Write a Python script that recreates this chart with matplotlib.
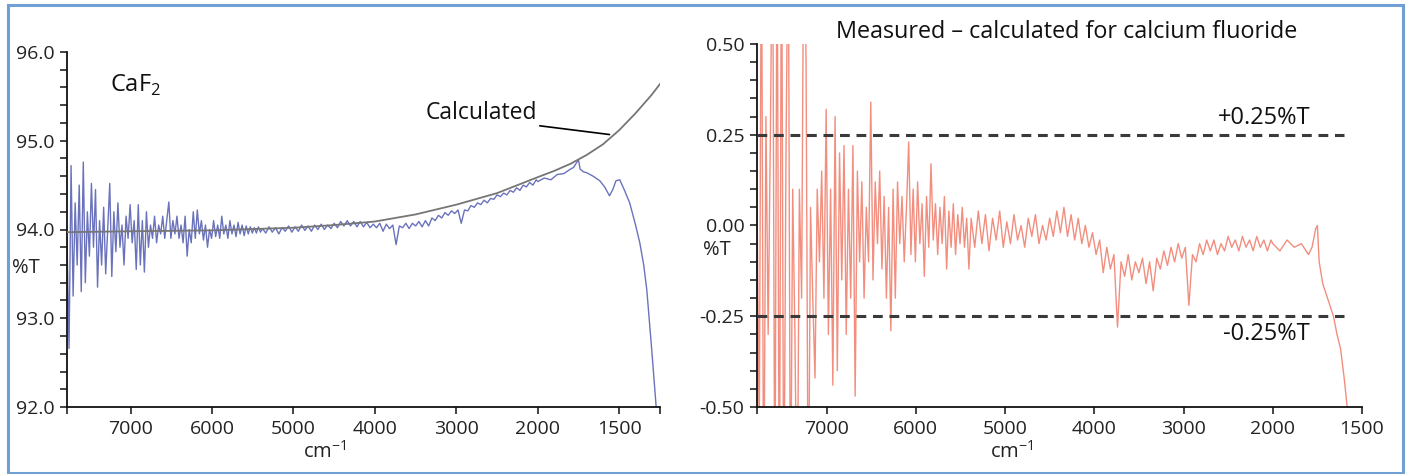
import matplotlib
matplotlib.use("Agg")
import matplotlib.pyplot as plt
from matplotlib.patches import Rectangle
import numpy as np

plt.rcParams['font.family'] = ['Open Sans', 'DejaVu Sans']
plt.rcParams['axes.unicode_minus'] = False
plt.rcParams['mathtext.fontset'] = 'custom'
plt.rcParams['mathtext.rm'] = 'Open Sans'

# ---- data ------------------------------------------------------------------
# sampling grids (cm-1) of the noisy high-wavenumber part and the middle part
wn_noisy = np.arange(7780, 5400, -25)
wn_mid = np.arange(5380, 2000, -40)

# calculated CaF2 transmission
calc_wn = [7780, 7000, 6000, 5000, 4500, 4000, 3500, 3000, 2500, 2000,
           1900, 1800, 1700, 1600, 1500, 1400, 1300, 1250]
calc_t = [93.97, 93.98, 93.99, 94.02, 94.05, 94.09, 94.17, 94.28, 94.41, 94.59,
          94.66, 94.74, 94.84, 94.96, 95.12, 95.31, 95.52, 95.64]

# measured CaF2 transmission
meas_noisy = [
    93.9, 92.66, 94.72, 93.25, 94.3, 93.6, 94.5, 93.3, 94.76, 93.4,
    94.2, 93.7, 94.52, 93.8, 94.45, 93.35, 94.1, 93.6, 94.25, 93.5,
    94.0, 94.52, 93.47, 94.2, 93.75, 94.3, 93.8, 94.05, 93.6, 94.15,
    93.9, 94.28, 93.85, 94.1, 93.55, 94.28, 93.6, 94.1, 93.52, 94.2,
    93.8, 94.05, 93.9, 94.15, 93.85, 94.05, 93.95, 94.15, 93.9, 94.1,
    94.31, 93.9, 94.1, 93.95, 94.15, 93.9, 94.05, 93.85, 94.15, 93.7,
    94.0, 93.85, 94.2, 93.9, 94.22, 93.95, 94.1, 93.88, 94.05, 93.8,
    94.0, 93.9, 94.1, 93.92, 94.05, 93.9, 94.15, 93.95, 94.05, 93.9,
    94.1, 93.95, 94.05, 93.92, 94.08, 93.95, 94.05, 93.93, 94.04, 93.95,
    94.03, 93.96, 94.02, 93.96, 94.03, 93.97]
meas_mid = [
    94.01, 93.96, 94.03, 93.97, 94.02, 93.95, 94.02, 93.98, 94.04, 93.97,
    94.03, 93.98, 94.05, 93.99, 94.04, 93.98, 94.05, 94.0, 94.06, 94.0,
    94.05, 94.01, 94.07, 94.02, 94.09, 94.04, 94.1, 94.04, 94.09, 94.03,
    94.09, 94.03, 94.08, 94.02, 94.06, 94.02, 94.07, 93.98, 94.06, 94.01,
    94.05, 93.83, 94.04, 94.02, 94.07, 94.01, 94.07, 94.04, 94.09, 94.03,
    94.1, 94.04, 94.13, 94.1, 94.16, 94.13, 94.19, 94.16, 94.21, 94.18,
    94.22, 94.07, 94.22, 94.21, 94.27, 94.25, 94.3, 94.28, 94.33, 94.3,
    94.35, 94.34, 94.39, 94.37, 94.41, 94.39, 94.44, 94.42, 94.47, 94.44,
    94.5, 94.48, 94.53, 94.5, 94.56]
meas_low_wn = [2000, 1960, 1920, 1880, 1840, 1800, 1780, 1760, 1750, 1740,
               1720, 1700, 1660, 1620, 1590, 1560, 1540, 1520, 1497, 1470,
               1436, 1400, 1374, 1350, 1331, 1301, 1276, 1265]
meas_low = [94.54, 94.58, 94.56, 94.62, 94.63, 94.68, 94.7, 94.76, 94.78, 94.68,
            94.65, 94.64, 94.6, 94.55, 94.48, 94.38, 94.45, 94.55, 94.56, 94.45,
            94.3, 94.05, 93.85, 93.6, 93.32, 92.65, 92.05, 91.8]

# measured - calculated
res_noisy = [
    0.1, -0.6, 0.9, -0.9, 0.3, -0.3, 0.25, 0.9, -0.9, 0.9,
    -0.9, 0.9, -0.9, 0.2, 0.9, -0.9, 0.1, -0.3, -0.9, 0.1,
    -0.2, 0.9, 0.45, -0.9, 0.05, -0.2, -0.42, 0.1, -0.1, 0.15,
    -0.2, 0.32, -0.3, 0.1, -0.44, 0.3, -0.4, 0.2, -0.15, 0.22,
    -0.3, 0.1, -0.2, 0.22, -0.47, 0.15, -0.1, 0.12, -0.2, 0.05,
    -0.1, 0.34, -0.15, 0.12, -0.05, 0.15, -0.12, 0.08, -0.2, 0.05,
    -0.29, 0.1, -0.2, 0.12, -0.05, 0.08, -0.1, 0.05, 0.23, -0.08,
    0.1, -0.1, 0.12, -0.05, 0.06, -0.14, 0.08, -0.06, 0.17, -0.04,
    0.06, -0.08, 0.05, -0.05, 0.08, -0.12, 0.04, -0.06, 0.06, -0.08,
    0.03, -0.05, 0.05, -0.06, 0.02, -0.12]
res_mid = [
    0.02, -0.06, 0.04, -0.05, 0.03, -0.07, 0.02, -0.04, 0.04, -0.06,
    0.01, -0.05, 0.03, -0.04, 0.0, -0.06, 0.02, -0.03, 0.03, -0.05,
    0.0, -0.04, 0.02, -0.03, 0.04, -0.02, 0.05, -0.03, 0.03, -0.04,
    0.02, -0.05, 0.0, -0.06, -0.02, -0.08, -0.04, -0.13, -0.06, -0.12,
    -0.08, -0.28, -0.1, -0.14, -0.08, -0.15, -0.1, -0.13, -0.09, -0.16,
    -0.1, -0.18, -0.09, -0.12, -0.07, -0.11, -0.06, -0.1, -0.05, -0.09,
    -0.06, -0.22, -0.08, -0.1, -0.05, -0.08, -0.04, -0.07, -0.04, -0.08,
    -0.05, -0.07, -0.03, -0.06, -0.04, -0.07, -0.03, -0.06, -0.04, -0.07,
    -0.03, -0.06, -0.04, -0.07, -0.04]
res_low_wn = [2000, 1960, 1920, 1880, 1840, 1800, 1780, 1760, 1750, 1740,
              1720, 1700, 1680, 1660, 1640, 1620, 1600, 1583, 1560]
res_low = [-0.05, -0.07, -0.04, -0.06, -0.05, -0.08, -0.06, -0.01, 0.0, -0.1,
           -0.16, -0.19, -0.22, -0.25, -0.3, -0.34, -0.42, -0.5, -0.7]

limit = 0.25
left_yticks = [92.0, 93.0, 94.0, 95.0, 96.0]
right_yticks = [-0.50, -0.25, 0.00, 0.25, 0.50]
xticks_left = [7000, 6000, 5000, 4000, 3000, 2000, 1500]


# spectrometer style axis: 2x expanded below 2000 cm-1
def fwd(w):
    w = np.asarray(w, dtype=float)
    return np.where(w >= 2000, w, 2 * w - 2000)


def inv(u):
    u = np.asarray(u, dtype=float)
    return np.where(u >= 2000, u, (u + 2000) / 2)


W, H = 1410, 474
fig = plt.figure(figsize=(W / 100, H / 100), dpi=100)

ax1 = fig.add_axes([67 / W, 1 - 407 / H, 593 / W, 355 / H])
ax2 = fig.add_axes([757 / W, 1 - 407 / H, 605 / W, 363 / H])

# left panel
wn_meas = np.concatenate([wn_noisy, wn_mid, meas_low_wn])
t_meas = np.concatenate([meas_noisy, meas_mid, meas_low])
ax1.plot(wn_meas, t_meas, color='#5a63b5', lw=1.0, alpha=0.9, zorder=2)
ax1.plot(calc_wn, calc_t, color='#767676', lw=1.3, zorder=3)
ax1.set_xscale('function', functions=(fwd, inv))
ax1.set_xlim(7780, 1250)
ax1.set_ylim(92.0, 96.0)
ax1.set_yticks(left_yticks)
ax1.set_yticklabels([f'{v:.1f}' for v in left_yticks])
ax1.set_yticks(np.arange(92.2, 96.0, 0.2), minor=True)
ax1.set_xticks(xticks_left)
ax1.set_xticklabels([str(v) for v in xticks_left])
ax1.set_xticks([7780, 1250], minor=True)
ax1.text(0.072, 0.905, r'CaF$_{\mathrm{2}}$', transform=ax1.transAxes,
         fontsize=17, va='center', ha='left', color='#111111')
ax1.annotate('Calculated', xy=(1560, 95.07), xytext=(2010, 95.24),
             ha='right', va='baseline', fontsize=16.5, color='#111111',
             arrowprops=dict(arrowstyle='-', color='black', lw=1.2,
                             shrinkA=0, shrinkB=0, relpos=(1.0, 0.0)))

# right panel
wn_res = np.concatenate([wn_noisy, wn_mid, res_low_wn])
r_meas = np.concatenate([res_noisy, res_mid, res_low])
ax2.plot(wn_res, r_meas, color='#f07a68', lw=1.0, alpha=0.85, zorder=2)
ax2.set_xscale('function', functions=(fwd, inv))
ax2.set_xlim(7780, 1500)
ax2.set_ylim(-0.5, 0.5)
for lvl in (limit, -limit):
    ax2.plot([7780, 1600], [lvl, lvl], color='#3a3a3a', lw=2.2,
             dashes=(3.2, 2.2), zorder=3)
ax2.text(1790, 0.295, '+0.25%T', ha='right', va='center', fontsize=17, color='#111111')
ax2.text(1790, -0.30, '-0.25%T', ha='right', va='center', fontsize=17, color='#111111')
ax2.set_yticks(right_yticks)
ax2.set_yticklabels([f'{v:.2f}' for v in right_yticks])
ax2.set_yticks(np.arange(-0.45, 0.5, 0.05), minor=True)
ax2.set_xticks(xticks_left)
ax2.set_xticklabels([str(v) for v in xticks_left])
ax2.set_xticks([7780], minor=True)

for ax in (ax1, ax2):
    for s in ('top', 'right'):
        ax.spines[s].set_visible(False)
    for s in ('left', 'bottom'):
        ax.spines[s].set_linewidth(1.3)
        ax.spines[s].set_color('#111111')
    ax.tick_params(which='both', direction='out', length=5, width=1.1,
                   color='#111111', labelsize=14, labelcolor='#222222', pad=4)
    ax.set_facecolor('none')

# axis captions
fig.text(12 / W, 1 - 268 / H, '%T', fontsize=14.5, va='center', ha='left', color='#222222')
fig.text(703 / W, 1 - 250 / H, '%T', fontsize=14.5, va='center', ha='left', color='#222222')
fig.text(325 / W, 1 - 452 / H, r'cm$^{\mathrm{-1}}$', fontsize=14.5, va='center',
         ha='center', color='#222222')
fig.text(1012 / W, 1 - 452 / H, r'cm$^{\mathrm{-1}}$', fontsize=14.5, va='center',
         ha='center', color='#222222')
fig.text(1067 / W, 1 - 32 / H, 'Measured \u2013 calculated for calcium fluoride',
         fontsize=16.8, va='center', ha='center', color='#111111')

# blue frame round the figure
fig.add_artist(Rectangle((8 / W, 1 - 473 / H), 1395 / W, 468 / H,
                         transform=fig.transFigure, fill=False,
                         edgecolor='#6f9fd3', lw=2.2))

fig.savefig('out.png', dpi=100)
